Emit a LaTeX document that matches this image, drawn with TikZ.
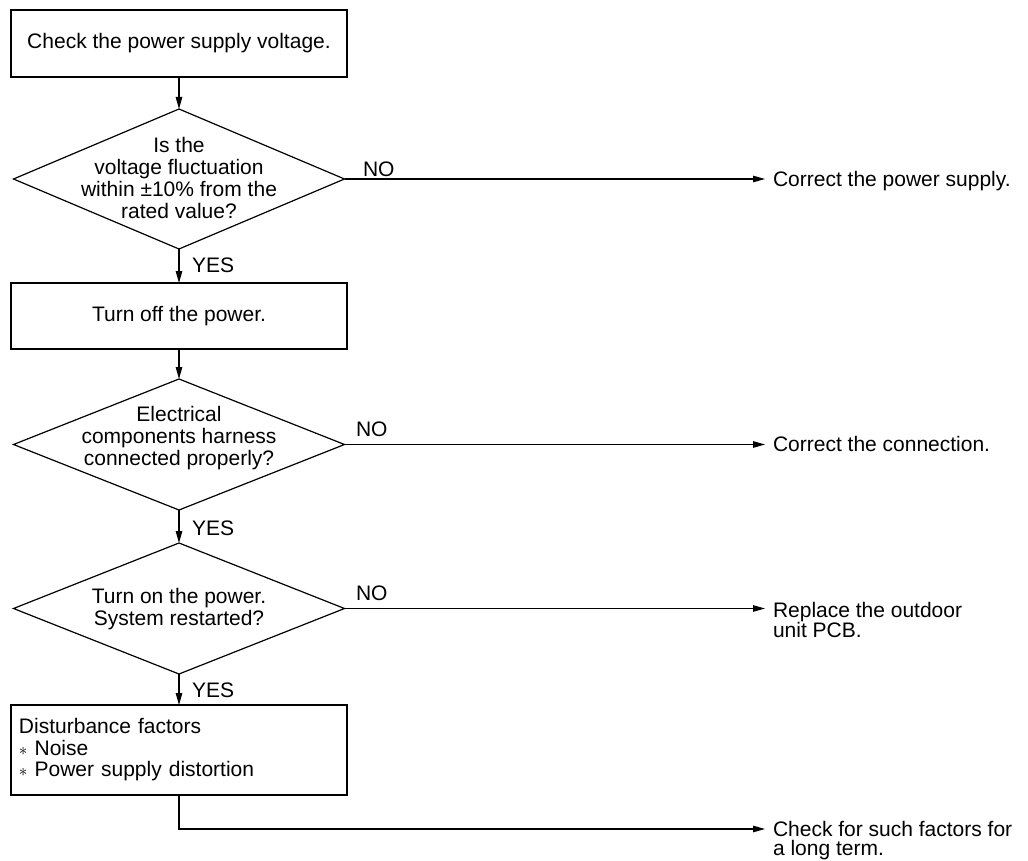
\documentclass[tikz,border=0pt]{standalone}
\usepackage{fontspec}
\setmainfont{Liberation Sans}
\usetikzlibrary{shapes.geometric,arrows.meta}
\begin{document}
\begin{tikzpicture}[x=1pt,y=-1pt,line width=1.2pt,
  every node/.style={font=\fontsize{21}{22}\selectfont},
  boxnode/.style={draw,rectangle,minimum width=336pt,inner sep=0pt,outer sep=0pt,align=center},
  dia/.style={draw,diamond,minimum width=331pt,inner sep=0pt,outer sep=0pt},
  arr/.style={-{Triangle[length=12pt,width=6.5pt]}},
  lbl/.style={inner sep=0pt,outer sep=0pt},
  endtext/.style={lbl,align=left,font=\fontsize{21}{19}\selectfont}
]
\useasboundingbox (0,0) rectangle (1028,861);

% main column
\node[boxnode,minimum height=67pt] (b1) at (179,43.5) {Check the power supply voltage.};
\node[dia,minimum height=140pt] (d1) at (179,179) {};
\node[lbl,align=center] (t1) at (179,178) {Is the\\voltage fluctuation\\within ±10\% from the\\rated value?};
\node[boxnode,minimum height=66pt] (b2) at (179,316) {Turn off the power.};
\node[dia,minimum height=131pt] (d2) at (179,444.5) {};
\node[lbl,align=center] (t2) at (179,438) {Electrical\\components harness\\connected properly?};
\node[dia,minimum height=131pt] (d3) at (179,608.5) {};
\node[lbl,align=center] (t3) at (179,609) {Turn on the power.\\System restarted?};
\node[boxnode,minimum height=90pt,text width=320pt,align=left,inner xsep=8pt,
      font=\fontsize{21}{21.5}\selectfont] (b4) at (179,750)
  {Disturbance factors\\{\fontsize{18}{18}\selectfont$\ast$} Noise\\{\fontsize{18}{18}\selectfont$\ast$} Power supply distortion};

% vertical arrows
\draw[arr] (b1.south) -- (d1.north);
\draw[arr] (d1.south) -- (b2.north);
\draw[arr] (b2.south) -- (d2.north);
\draw[arr] (d2.south) -- (d3.north);
\draw[arr] (d3.south) -- (b4.north);

% YES labels
\node[lbl,anchor=base west] (y1) at (192,272) {YES};
\node[lbl,anchor=base west] (y2) at (192,535) {YES};
\node[lbl,anchor=base west] (y3) at (192,697) {YES};

% NO labels
\node[lbl,anchor=base west] (n1) at (363,177) {NO};
\node[lbl,anchor=base west] (n2) at (356,436) {NO};
\node[lbl,anchor=base west] (n3) at (356,600) {NO};

% right side targets
\coordinate (e1) at (765,179);
\coordinate (e2) at (765,444.5);
\coordinate (e3) at (765,608.5);
\coordinate (e4) at (765,829);

\draw[arr] (d1.east) -- (e1);
\draw[arr] (d2.east) -- (e2);
\draw[arr] (d3.east) -- (e3);
\draw[arr] (b4.south) |- (e4);

\node[lbl,anchor=base west] (r1) at (773,186.5) {Correct the power supply.};
\node[lbl,anchor=base west] (r2) at (773,451.5) {Correct the connection.};
\node[endtext,anchor=north west] (r3) at (773,602) {Replace the outdoor\\unit PCB.};
\node[endtext,anchor=north west] (r4) at (773,821.5) {Check for such factors for\\a long term.};
\end{tikzpicture}
\end{document}
